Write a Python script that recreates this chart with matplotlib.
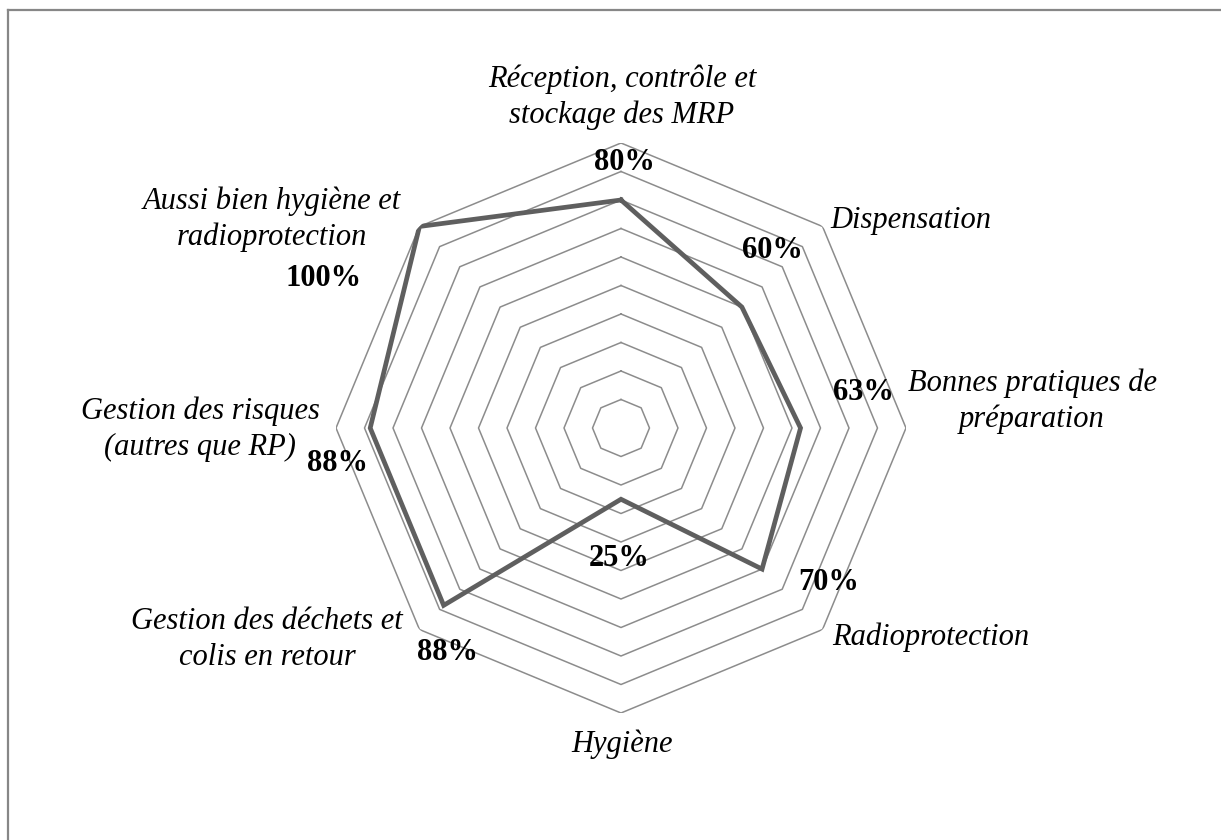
import numpy as np
import matplotlib
matplotlib.use("Agg")
import matplotlib.pyplot as plt
from matplotlib.lines import Line2D

# ---------------- data ----------------
categories = [
    "Réception, contrôle et\nstockage des MRP",
    "Dispensation",
    "Bonnes pratiques de\npréparation",
    "Radioprotection",
    "Hygiène",
    "Gestion des déchets et\ncolis en retour",
    "Gestion des risques\n(autres que RP)",
    "Aussi bien hygiène et\nradioprotection",
]
values = [0.80, 0.60, 0.63, 0.70, 0.25, 0.88, 0.88, 1.00]
value_labels = ["80%", "60%", "63%", "70%", "25%", "88%", "88%", "100%"]
ring_levels = [0.1, 0.2, 0.3, 0.4, 0.5, 0.6, 0.7, 0.8, 0.9, 1.0]

# ---------------- layout (pixels) ----------------
W, H = 1221, 840
cx, cy, R = 621, 428, 285
# category label positions: (x, last-line baseline y, ha)
cat_pos = [
    (622, 123, "center"),
    (830, 228, "left"),
    (1032, 427, "center"),
    (832, 645, "left"),
    (622, 752, "center"),
    (267, 665, "center"),
    (200, 455, "center"),
    (272, 245, "center"),
]
# value label centres
val_pos = [
    (624, 162), (772, 251), (863, 392), (829, 583),
    (619, 558), (448, 652), (337, 463), (324, 279),
]

plt.rcParams["font.family"] = ["Liberation Serif", "DejaVu Serif"]

fig = plt.figure(figsize=(W / 100, H / 100), dpi=100)
ax = fig.add_axes([(cx - R) / W, (H - cy - R) / H, 2 * R / W, 2 * R / H],
                  projection="polar")
ax.set_theta_offset(np.pi / 2)
ax.set_theta_direction(-1)
ax.set_ylim(0, 1)

n = len(categories)
theta = np.linspace(0, 2 * np.pi, n, endpoint=False)
theta_c = np.append(theta, theta[0])

for lv in ring_levels:
    ax.plot(theta_c, [lv] * (n + 1), color="#8c8c8c", lw=1.1, zorder=1)

vals_c = values + values[:1]
ax.plot(theta_c, vals_c, color="#5f5f5f", lw=3.4, zorder=3,
        solid_joinstyle="miter")

ax.grid(False)
ax.set_xticks([])
ax.set_yticks([])
ax.spines["polar"].set_visible(False)
ax.patch.set_alpha(0)

def px(x, y):
    return x / W, 1 - y / H

for lab, (x, y, ha) in zip(categories, cat_pos):
    fx, fy = px(x, y)
    fig.text(fx, fy, lab, ha=ha, va="baseline", multialignment="center",
             fontsize=22, fontstyle="italic", linespacing=1.3)

for lab, (x, y) in zip(value_labels, val_pos):
    fx, fy = px(x, y)
    fig.text(fx, fy, lab, ha="center", va="center", fontsize=22,
             fontweight="bold")

# outer frame (top and left edges visible)
fig.add_artist(Line2D([8 / W, 1], [1 - 10 / H, 1 - 10 / H],
                      color="#878787", lw=1.6, transform=fig.transFigure))
fig.add_artist(Line2D([8 / W, 8 / W], [0, 1 - 10 / H],
                      color="#878787", lw=1.6, transform=fig.transFigure))

fig.savefig("out.png", dpi=100)
